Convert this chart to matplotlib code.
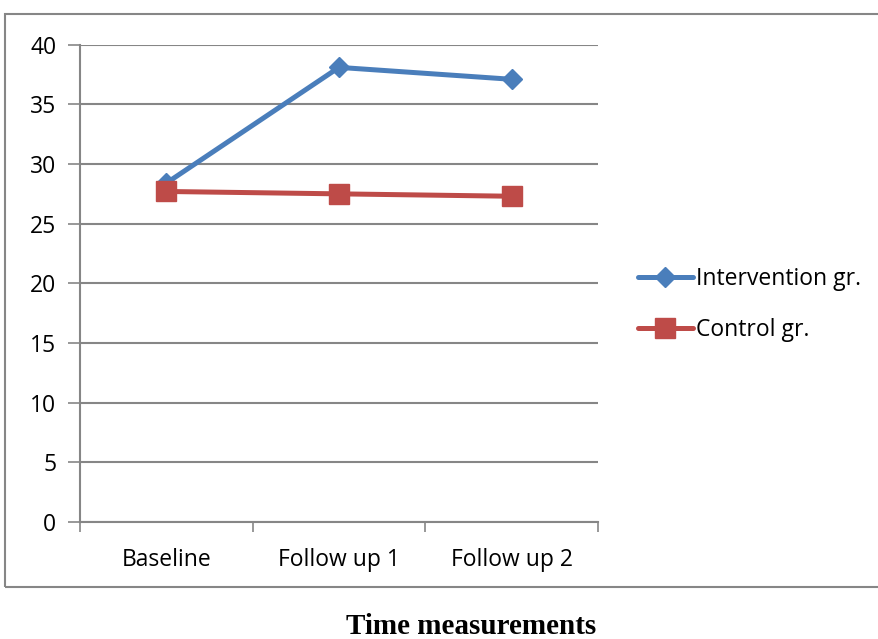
import matplotlib.pyplot as plt
from matplotlib.patches import Rectangle

# data for the two groups
time_points = ["Baseline", "Follow up 1", "Follow up 2"]
intervention = [28.4, 38.1, 37.1]
control = [27.7, 27.5, 27.3]
y_ticks = [0, 5, 10, 15, 20, 25, 30, 35, 40]

grey = "#868686"
blue = "#4A7EBB"
red = "#BE4B48"
font = "Open Sans"
fsize = 16.5

fig = plt.figure(figsize=(8.79, 6.39), dpi=100)
ax = fig.add_axes([80 / 879, 117 / 639, 518 / 879, 477.3 / 639])

x = [0, 1, 2]
ax.plot(x, intervention, color=blue, lw=3.6, marker="D", markersize=10,
        label="Intervention gr.", solid_capstyle="round", zorder=3)
ax.plot(x, control, color=red, lw=3.6, marker="s", markersize=15,
        label="Control gr.", solid_capstyle="round", zorder=4)

ax.set_xlim(-0.5, 2.5)
ax.set_ylim(0, 40)
ax.set_yticks(y_ticks)
ax.set_xticks([-0.5, 0.5, 1.5, 2.5])
ax.set_xticklabels([])
ax.set_xticks(x, minor=True)
ax.set_xticklabels(time_points, minor=True)
ax.tick_params(axis="x", which="minor", length=0, pad=19)
ax.tick_params(axis="x", which="major", length=7, color=grey, width=1.2)
ax.tick_params(axis="y", length=9, color=grey, width=1.2, pad=8)
for lbl in ax.get_xticklabels(minor=True) + ax.get_yticklabels():
    lbl.set_family(font)
    lbl.set_fontsize(fsize)

ax.yaxis.grid(True, color=grey, lw=1.5, zorder=0)
ax.set_axisbelow(True)
for side in ["top", "right"]:
    ax.spines[side].set_visible(False)
for side in ["left", "bottom"]:
    ax.spines[side].set_color(grey)
    ax.spines[side].set_linewidth(1.5)

leg = ax.legend(loc="center left", bbox_to_anchor=(1.037, 0.456), frameon=False,
                prop={"family": font, "size": fsize}, handlelength=2.4,
                handletextpad=0.12, labelspacing=1.2)

# outer chart border
fig.patches.append(Rectangle((5 / 879, 1 - 587 / 639), 1.2, (587 - 14) / 639,
                             transform=fig.transFigure, fill=False,
                             edgecolor=grey, lw=1.5, clip_on=False))

fig.text(471 / 879, 1 - 627 / 639, "Time measurements", ha="center", va="center",
         family="Liberation Serif", fontweight="bold", fontsize=21)

fig.savefig("out.png", dpi=100)
